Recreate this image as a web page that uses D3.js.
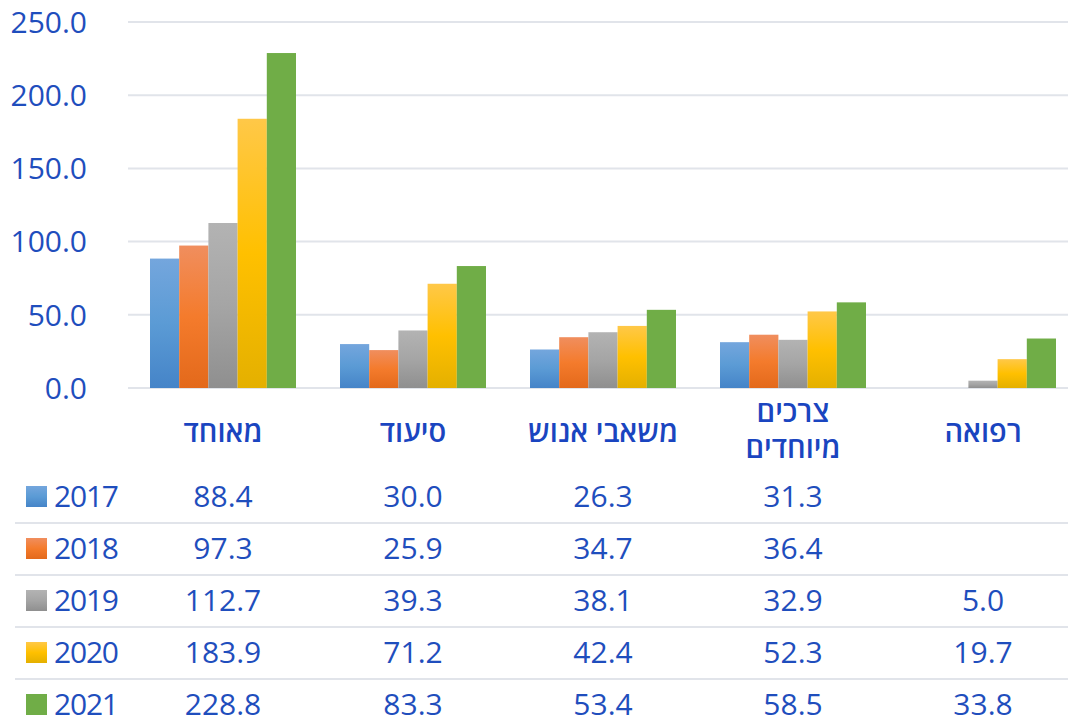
<!DOCTYPE html>
<html>
<head>
<meta charset="utf-8">
<script src="https://cdn.jsdelivr.net/npm/d3@7/dist/d3.min.js"></script>
<style>
  body { margin: 0; background: #fff; }
  svg text { font-family: "Open Sans", "DejaVu Sans", sans-serif; fill: #1f4ebd; }
</style>
</head>
<body>
<svg width="1068" height="720"></svg>
<script>
const svg = d3.select('svg');

const categories = ['מאוחד', 'סיעוד', 'משאבי אנוש', 'צרכים מיוחדים', 'רפואה'];
const categoryLines = [['מאוחד'], ['סיעוד'], ['משאבי אנוש'], ['צרכים', 'מיוחדים'], ['רפואה']];
const years = ['2017', '2018', '2019', '2020', '2021'];

const v2017 = [88.4, 30.0, 26.3, 31.3, null];
const v2018 = [97.3, 25.9, 34.7, 36.4, null];
const v2019 = [112.7, 39.3, 38.1, 32.9, 5.0];
const v2020 = [183.9, 71.2, 42.4, 52.3, 19.7];
const v2021 = [228.8, 83.3, 53.4, 58.5, 33.8];
const series = [v2017, v2018, v2019, v2020, v2021];

const yTicks = [0, 50, 100, 150, 200, 250];

// gradient stops per year: top, middle, bottom
const gradColors = {
    '2017': ['#74a6dd', '#5b9bd5', '#4584c8'],
    '2018': ['#f08e5e', '#f47b2c', '#e3691b'],
    '2019': ['#b3b3b3', '#a5a5a5', '#8f8f8f'],
    '2020': ['#ffc848', '#ffc000', '#e4b000'],
    '2021': ['#70ad47', '#70ad47', '#70ad47']
};

const defs = svg.append('defs');
years.forEach(yr => {
    const g = defs.append('linearGradient')
        .attr('id', 'g' + yr)
        .attr('x1', 0).attr('y1', 0).attr('x2', 0).attr('y2', 1);
    gradColors[yr].forEach((c, i) => {
        g.append('stop').attr('offset', (i * 50) + '%').attr('stop-color', c);
    });
});

const x0 = d3.scaleBand().domain(categories).range([128, 1078]);
const x1 = d3.scaleBand().domain(years).range([22, 168]);
const y = d3.scaleLinear().domain([0, 250]).range([388, 22]);

// gridlines
svg.append('g').selectAll('line').data(yTicks).enter().append('line')
    .attr('x1', 128).attr('x2', 1068)
    .attr('y1', d => y(d)).attr('y2', d => y(d))
    .attr('stroke', '#e1e4ea').attr('stroke-width', 2);

// y labels
svg.append('g').selectAll('text').data(yTicks).enter().append('text')
    .attr('x', 87).attr('y', d => y(d))
    .attr('dy', '0.36em')
    .attr('text-anchor', 'end')
    .attr('font-size', 30)
    .text(d => d3.format('.1f')(d));

// bars
const groups = svg.append('g').selectAll('g').data(categories).enter().append('g')
    .attr('transform', d => `translate(${x0(d)},0)`);

groups.selectAll('rect')
    .data((d, ci) => years.map((yr, si) => ({ yr, v: series[si][ci] })).filter(e => e.v != null))
    .enter().append('rect')
        .attr('x', d => x1(d.yr))
        .attr('width', x1.bandwidth())
        .attr('y', d => y(d.v))
        .attr('height', d => y(0) - y(d.v))
        .attr('fill', d => `url(#g${d.yr})`);

// category labels
const catG = svg.append('g').selectAll('text').data(categoryLines).enter().append('text')
    .attr('text-anchor', 'middle')
    .attr('direction', 'rtl')
    .attr('font-size', 29)
    .attr('font-weight', 600)
    .style('fill', '#1a45c0')
    .attr('x', (d, i) => x0(categories[i]) + x0.bandwidth() / 2);

catG.each(function (lines) {
    const t = d3.select(this);
    const y0 = lines.length === 1 ? 442 : 422;
    lines.forEach((ln, i) => {
        t.append('tspan')
            .attr('x', t.attr('x'))
            .attr('y', y0 + i * 36)
            .text(ln);
    });
});

// data table
const rowY = d3.scaleBand().domain(years).range([470, 730]);

svg.append('g').selectAll('line').data(years.slice(1)).enter().append('line')
    .attr('x1', 15).attr('x2', 1068)
    .attr('y1', d => rowY(d) + 1).attr('y2', d => rowY(d) + 1)
    .attr('stroke', '#e1e4ea').attr('stroke-width', 2);

const rows = svg.append('g').selectAll('g').data(years).enter().append('g')
    .attr('transform', d => `translate(0,${rowY(d) + rowY.bandwidth() / 2})`);

rows.append('rect')
    .attr('x', 26).attr('y', -10)
    .attr('width', 21).attr('height', 21)
    .attr('fill', d => `url(#g${d})`);

rows.append('text')
    .attr('x', 54).attr('dy', '0.36em')
    .attr('font-size', 30)
    .attr('letter-spacing', -1.2)
    .text(d => d);

rows.selectAll('text.val')
    .data((d, si) => series[si].map((v, ci) => ({ v, c: categories[ci] })).filter(e => e.v != null))
    .enter().append('text')
        .attr('class', 'val')
        .attr('x', d => x0(d.c) + x0.bandwidth() / 2)
        .attr('dy', '0.36em')
        .attr('text-anchor', 'middle')
        .attr('font-size', 30)
        .text(d => d3.format('.1f')(d.v));
</script>
</body>
</html>
